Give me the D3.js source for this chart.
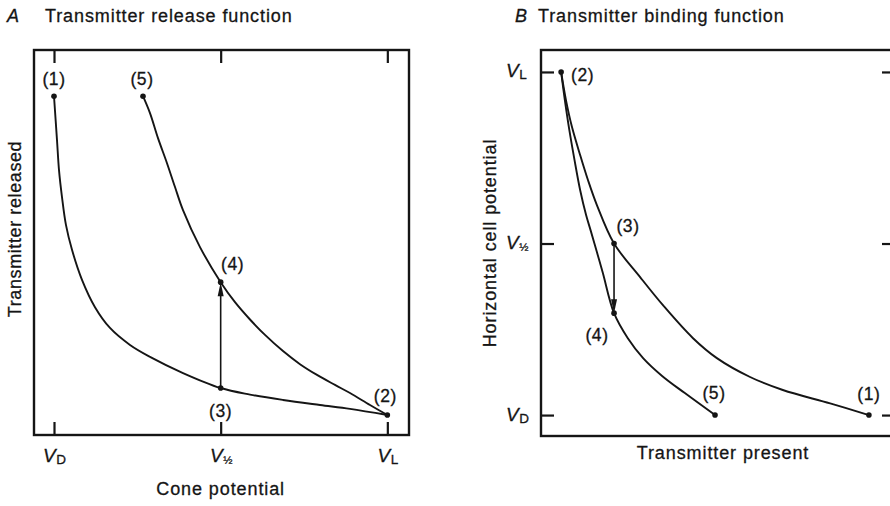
<!DOCTYPE html>
<html>
<head>
<meta charset="utf-8">
<script src="https://cdn.jsdelivr.net/npm/d3@7"></script>
<style>
  body { margin: 0; background: #fff; }
  svg text {
    font-family: "Liberation Sans", Arial, sans-serif;
    fill: #151515;
    stroke: #151515;
    stroke-width: 0.3px;
  }
</style>
</head>
<body>
<svg id="chart" width="890" height="506"></svg>
<script>
// ---------- Panel A: transmitter release vs cone potential ----------
// cone potential: V_D = 0, V_1/2 = 50, V_L = 100; transmitter released in arbitrary units
const potentialTicks = [
  { value: 0, sub: "D" },
  { value: 50, sub: "½" },
  { value: 100, sub: "L" }
];
// (1) -> (3) -> (2)
const releaseLower = [
  [0, 88], [0.9, 76.6], [1.5, 68.8], [2.4, 61.8], [3.6, 54.5], [5.4, 48.1],
  [8.4, 40.3], [12.3, 33.2], [16.8, 27.8], [22.8, 23.4], [28.8, 20.3],
  [38.7, 16.1], [50, 12.2], [58.8, 10.5], [68.7, 9.1], [79.8, 7.8],
  [88.8, 6.8], [100, 5.2]
];
// (5) -> (4) -> (2)
const releaseUpper = [
  [26.7, 88], [28.8, 83.6], [31.2, 77.1], [33.9, 70.6], [36.3, 64.4],
  [38.7, 58.4], [43.8, 48.8], [50, 39.7], [54.3, 34.5], [58.8, 30.0],
  [63.3, 26.0], [68.7, 21.8], [73.8, 18.4], [78.9, 15.6], [84.3, 13.0],
  [88.8, 10.9], [94.8, 7.8], [100, 5.2]
];
const releaseStates = [
  { label: "(1)", x: 0, y: 88 },
  { label: "(5)", x: 26.7, y: 88 },
  { label: "(4)", x: 50, y: 39.7 },
  { label: "(3)", x: 50, y: 12.2 },
  { label: "(2)", x: 100, y: 5.2 }
];
const releaseStep = { x: 50, from: 12.2, to: 39.7 };

// ---------- Panel B: horizontal cell potential vs transmitter present ----------
// (2) -> (3) -> (1)
const bindingOuter = [
  [5.4, 100], [6.7, 91.8], [8.3, 84.0], [10.5, 75.8], [12.6, 68.5],
  [15.0, 61.2], [19.6, 50], [26.6, 40.2], [32.9, 31.8], [40.8, 22.4],
  [47.2, 16.6], [56.1, 11.1], [64.9, 7.3], [77.6, 3.4], [88.0, 0]
];
// (2) -> (4) -> (5)
const bindingInner = [
  [5.4, 100], [6.4, 91.8], [7.6, 83.1], [9.0, 74.3], [10.5, 65.6],
  [12.1, 58.3], [13.3, 53.9], [15.0, 47.5], [16.6, 41.4], [19.6, 29.7],
  [23.3, 22.4], [27.4, 16.6], [32.5, 11.4], [38.6, 6.4], [46.7, 0]
];
const bindingStates = [
  { label: "(2)", x: 5.4, y: 100 },
  { label: "(3)", x: 19.6, y: 50 },
  { label: "(4)", x: 19.6, y: 29.7 },
  { label: "(5)", x: 46.7, y: 0 },
  { label: "(1)", x: 88.0, y: 0 }
];
const bindingStep = { x: 19.6, from: 50, to: 29.7 };

const titles = [
  { letter: "A", text: "Transmitter release function" },
  { letter: "B", text: "Transmitter binding function" }
];
const axisTitles = {
  aX: "Cone potential", aY: "Transmitter released",
  bX: "Transmitter present", bY: "Horizontal cell potential"
};

// ---------- drawing ----------
const ink = "#151515";
const svg = d3.select("#chart");

const xA = d3.scaleLinear().domain([-6, 106.5]).range([34, 409]);
const yA = d3.scaleLinear().domain([0, 100]).range([435, 50]);
const xB = d3.scaleLinear().domain([0, 95]).range([541, 895]);
const yB = d3.scaleLinear().domain([-6.1, 106.4]).range([436, 50]);

const line = (x, y) => d3.line()
  .x(d => x(d[0])).y(d => y(d[1]))
  .curve(d3.curveCatmullRom.alpha(0.5));

function frame(x, y) {
  const [x0, x1] = x.range(), [y0, y1] = y.range();
  svg.append("rect")
    .attr("x", x0).attr("y", y1)
    .attr("width", x1 - x0).attr("height", y0 - y1)
    .attr("fill", "none").attr("stroke", ink).attr("stroke-width", 2.4);
}

function potentialLabel(sel, sub) {
  sel.append("tspan").attr("font-style", "italic").attr("font-size", 19).text("V");
  sel.append("tspan")
    .attr("font-size", sub === "½" ? 11 : 13.5)
    .attr("dy", 2).attr("dx", 0.5).text(sub);
}

function arrowHead(x, y, dir) {
  // dir = -1 points up, +1 points down
  const len = 14, half = 3;
  svg.append("path")
    .attr("d", `M${x},${y}L${x - half},${y - dir * len}L${x + half},${y - dir * len}Z`)
    .attr("fill", ink);
}

function stateDots(states, x, y) {
  svg.append("g").selectAll("circle").data(states).join("circle")
    .attr("cx", d => x(d.x)).attr("cy", d => y(d.y)).attr("r", 2.8)
    .attr("fill", ink);
}

function stateLabels(states, x, y, offsets) {
  svg.append("g").selectAll("text").data(states).join("text")
    .attr("x", d => x(d.x) + offsets[d.label][0])
    .attr("y", d => y(d.y) + offsets[d.label][1])
    .attr("text-anchor", d => offsets[d.label][2] || "middle")
    .attr("font-size", 17.5).attr("letter-spacing", 0.6)
    .text(d => d.label);
}

// ---- Panel A ----
frame(xA, yA);
const tickLen = 13;
const axA = d3.axisBottom(xA).tickValues(potentialTicks.map(t => t.value))
  .tickSize(-tickLen).tickSizeOuter(0).tickFormat("");
const gAb = svg.append("g").attr("transform", `translate(0,${yA.range()[0]})`).call(axA);
const axAt = d3.axisTop(xA).tickValues(potentialTicks.map(t => t.value))
  .tickSize(-tickLen).tickSizeOuter(0).tickFormat("");
const gAt = svg.append("g").attr("transform", `translate(0,${yA.range()[1]})`).call(axAt);
[gAb, gAt].forEach(g => {
  g.select(".domain").remove();
  g.selectAll(".tick line").attr("stroke", ink).attr("stroke-width", 2.2);
});
gAb.selectAll(".tick").data(potentialTicks).each(function (t) {
  const txt = d3.select(this).append("text")
    .attr("y", 27).attr("text-anchor", "middle").attr("fill", ink);
  potentialLabel(txt, t.sub);
});

svg.append("path").datum(releaseLower)
  .attr("d", line(xA, yA)).attr("fill", "none")
  .attr("stroke", ink).attr("stroke-width", 1.9);
svg.append("path").datum(releaseUpper)
  .attr("d", line(xA, yA)).attr("fill", "none")
  .attr("stroke", ink).attr("stroke-width", 1.9);

svg.append("line")
  .attr("x1", xA(releaseStep.x)).attr("x2", xA(releaseStep.x))
  .attr("y1", yA(releaseStep.from)).attr("y2", yA(releaseStep.to) + 8)
  .attr("stroke", ink).attr("stroke-width", 1.6);
arrowHead(xA(releaseStep.x), yA(releaseStep.to), -1);

stateDots(releaseStates, xA, yA);
stateLabels(releaseStates, xA, yA, {
  "(1)": [0, -11], "(5)": [-1, -11], "(4)": [12, -12],
  "(3)": [0, 29], "(2)": [-2, -13]
});

svg.append("text").attr("x", xA(50)).attr("y", 495)
  .attr("text-anchor", "middle").attr("font-size", 18).attr("letter-spacing", 0.9)
  .text(axisTitles.aX);
svg.append("text").attr("transform", "translate(21,229) rotate(-90)")
  .attr("text-anchor", "middle").attr("font-size", 18).attr("letter-spacing", 0.6)
  .text(axisTitles.aY);

// ---- Panel B ----
frame(xB, yB);
const axBl = d3.axisLeft(yB).tickValues(potentialTicks.map(t => t.value))
  .tickSize(-tickLen).tickSizeOuter(0).tickFormat("");
const gBl = svg.append("g").attr("transform", `translate(${xB.range()[0]},0)`).call(axBl);
const axBr = d3.axisRight(yB).tickValues(potentialTicks.map(t => t.value))
  .tickSize(-tickLen).tickSizeOuter(0).tickFormat("");
const gBr = svg.append("g").attr("transform", `translate(${xB.range()[1]},0)`).call(axBr);
[gBl, gBr].forEach(g => {
  g.select(".domain").remove();
  g.selectAll(".tick line").attr("stroke", ink).attr("stroke-width", 2.2);
});
gBl.selectAll(".tick").data(potentialTicks).each(function (t) {
  const txt = d3.select(this).append("text")
    .attr("x", -35).attr("y", 5).attr("text-anchor", "start").attr("fill", ink);
  potentialLabel(txt, t.sub);
});

svg.append("path").datum(bindingOuter)
  .attr("d", line(xB, yB)).attr("fill", "none")
  .attr("stroke", ink).attr("stroke-width", 1.9);
svg.append("path").datum(bindingInner)
  .attr("d", line(xB, yB)).attr("fill", "none")
  .attr("stroke", ink).attr("stroke-width", 1.9);

svg.append("line")
  .attr("x1", xB(bindingStep.x)).attr("x2", xB(bindingStep.x))
  .attr("y1", yB(bindingStep.from)).attr("y2", yB(bindingStep.to) - 8)
  .attr("stroke", ink).attr("stroke-width", 1.6);
arrowHead(xB(bindingStep.x), yB(bindingStep.to), 1);

stateDots(bindingStates, xB, yB);
stateLabels(bindingStates, xB, yB, {
  "(2)": [10, 9, "start"], "(3)": [14, -12], "(4)": [-17, 28],
  "(5)": [-1, -16], "(1)": [0, -15]
});

svg.append("text").attr("x", 723).attr("y", 459)
  .attr("text-anchor", "middle").attr("font-size", 18).attr("letter-spacing", 0.9)
  .text(axisTitles.bX);
svg.append("text").attr("transform", "translate(496,243) rotate(-90)")
  .attr("text-anchor", "middle").attr("font-size", 18).attr("letter-spacing", 0.9)
  .text(axisTitles.bY);

// ---- panel titles ----
const titleX = [[7, 45], [515, 538]];
titles.forEach((t, i) => {
  svg.append("text").attr("x", titleX[i][0]).attr("y", 22)
    .attr("font-size", 18).attr("font-style", "italic").text(t.letter);
  svg.append("text").attr("x", titleX[i][1]).attr("y", 22)
    .attr("font-size", 18).attr("letter-spacing", 0.9).text(t.text);
});
</script>
</body>
</html>
